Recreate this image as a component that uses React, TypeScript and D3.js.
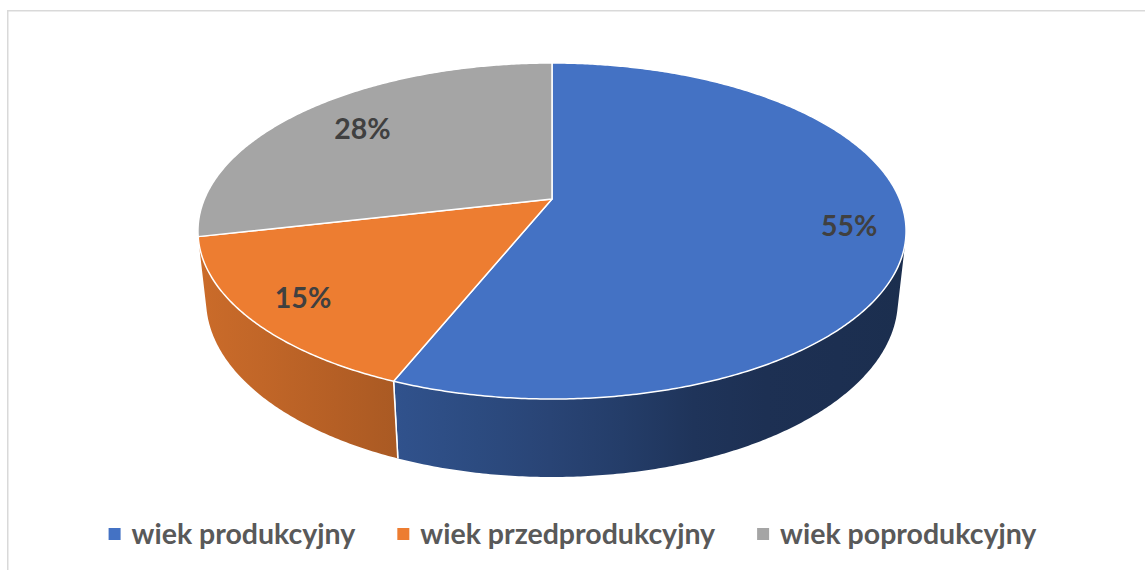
import React, { useEffect, useRef } from 'react';
import * as d3 from 'd3';

const categories = ['wiek produkcyjny', 'wiek przedprodukcyjny', 'wiek poprodukcyjny'];
const values = [55, 15, 28];
const valueLabels = ['55%', '15%', '28%'];
const colors = ['#4472C4', '#ED7D31', '#A5A5A5'];

const W = 1145;
const H = 570;

// 3D perspective pie parameters
const CX = 552;
const CY = 199;
const DIST = 4.646;
const FOC = 1614.8;
const SIN_T = 0.4659;
const COS_T = Math.sqrt(1 - SIN_T * SIN_T);
const DEPTH = 0.2257;

function proj(theta: number, r: number, y: number): [number, number] {
  const x3 = r * Math.sin(theta);
  const z3 = -r * Math.cos(theta);
  const yc = y * COS_T - z3 * SIN_T;
  const d = DIST - y * SIN_T - z3 * COS_T;
  return [CX + (FOC * x3) / d, CY - (FOC * yc) / d];
}

function arcPts(a0: number, a1: number, y: number): [number, number][] {
  const n = Math.max(2, Math.ceil(Math.abs(a1 - a0) / (Math.PI / 360)));
  const pts: [number, number][] = [];
  for (let i = 0; i <= n; i++) {
    const t = a0 + ((a1 - a0) * i) / n;
    pts.push(proj(t, 1, y));
  }
  return pts;
}

export default function App() {
  const ref = useRef<SVGSVGElement>(null);

  useEffect(() => {
    const svg = d3.select(ref.current);
    svg.selectAll('*').remove();

    // frame
    svg.append('rect')
      .attr('x', 7.75).attr('y', 10.75)
      .attr('width', W + 10).attr('height', H + 10)
      .attr('fill', 'none').attr('stroke', '#D9D9D9').attr('stroke-width', 1.5);

    const pie = d3.pie<number>().sort(null).value(d => d)(values);
    const defs = svg.append('defs');
    const line = d3.line();

    const thL = Math.acos(-1 / (DIST * COS_T));
    const thR = 2 * Math.PI - thL;

    const shade = d3.scaleLinear<number>()
      .domain([198, 392, 600, 720, 906])
      .range([0.86, 0.72, 0.56, 0.43, 0.4])
      .clamp(true);

    // walls
    pie.forEach((p, i) => {
      const a0 = Math.max(p.startAngle, thL);
      const a1 = Math.min(p.endAngle, thR);
      if (a1 <= a0) return;
      const gid = 'wallgrad' + i;
      const g = defs.append('linearGradient').attr('id', gid)
        .attr('gradientUnits', 'userSpaceOnUse')
        .attr('x1', 190).attr('x2', 910).attr('y1', 0).attr('y2', 0);
      const base = d3.rgb(colors[i]);
      d3.range(0, 11).forEach(k => {
        const x = 190 + (720 * k) / 10;
        const f = shade(x);
        g.append('stop')
          .attr('offset', k / 10)
          .attr('stop-color', d3.rgb(base.r * f, base.g * f, base.b * f).formatHex());
      });
      const top = arcPts(a0, a1, 0);
      const bot = arcPts(a1, a0, -DEPTH);
      svg.append('path')
        .attr('d', line([...top, ...bot]) + 'Z')
        .attr('fill', `url(#${gid})`)
        .attr('stroke', 'none');
      [a0, a1].forEach(a => {
        if (a > thL + 1e-6 && a < thR - 1e-6) {
          svg.append('path')
            .attr('d', line([proj(a, 1, 0), proj(a, 1, -DEPTH)]))
            .attr('stroke', '#FFFFFF').attr('stroke-width', 1.5);
        }
      });
    });

    // top faces
    pie.forEach((p, i) => {
      const pts = [proj(0, 0, 0), ...arcPts(p.startAngle, p.endAngle, 0)];
      svg.append('path')
        .attr('d', line(pts) + 'Z')
        .attr('fill', colors[i])
        .attr('stroke', '#FFFFFF')
        .attr('stroke-width', 1.5)
        .attr('stroke-linejoin', 'round');
    });

    // data labels: placed inward from the rim toward the pie centre
    const [vx, vy] = proj(0, 0, 0);
    const inset = 57;
    pie.forEach((p, i) => {
      const mid = (p.startAngle + p.endAngle) / 2;
      const [ex, ey] = proj(mid, 1, 0);
      const dx = vx - ex, dy = vy - ey;
      const len = Math.hypot(dx, dy);
      const x = ex + (dx / len) * inset;
      const y = ey + (dy / len) * inset;
      svg.append('text')
        .attr('x', x).attr('y', y)
        .attr('dy', '0.35em')
        .attr('text-anchor', 'middle')
        .attr('font-family', 'Lato, "Open Sans", sans-serif')
        .attr('font-weight', 700)
        .attr('font-size', 28.5)
        .attr('fill', '#404040')
        .text(valueLabels[i]);
    });

    // legend
    const lg = svg.append('g');
    const fontSize = 28.5;
    const sq = 12;
    const gapSq = 11;
    const gapItem = 42;
    const items = categories.map((c, i) => {
      const t = lg.append('text')
        .attr('font-family', 'Lato, "Open Sans", sans-serif')
        .attr('font-weight', 700)
        .attr('font-size', fontSize)
        .attr('fill', '#595959')
        .attr('y', 544)
        .text(c);
      const w = (t.node() as SVGTextElement).getComputedTextLength();
      return { t, w, i };
    });
    const total = items.reduce((s, it) => s + sq + gapSq + it.w, 0) + gapItem * (items.length - 1);
    let x = 572.5 - total / 2;
    items.forEach(it => {
      lg.append('rect')
        .attr('x', x).attr('y', 528)
        .attr('width', sq).attr('height', sq)
        .attr('fill', colors[it.i]);
      it.t.attr('x', x + sq + gapSq);
      x += sq + gapSq + it.w + gapItem;
    });
  }, []);

  return (
    <svg
      ref={ref}
      width={W}
      height={H}
      style={{ position: 'absolute', left: 0, top: 0, background: '#FFFFFF' }}
    />
  );
}
